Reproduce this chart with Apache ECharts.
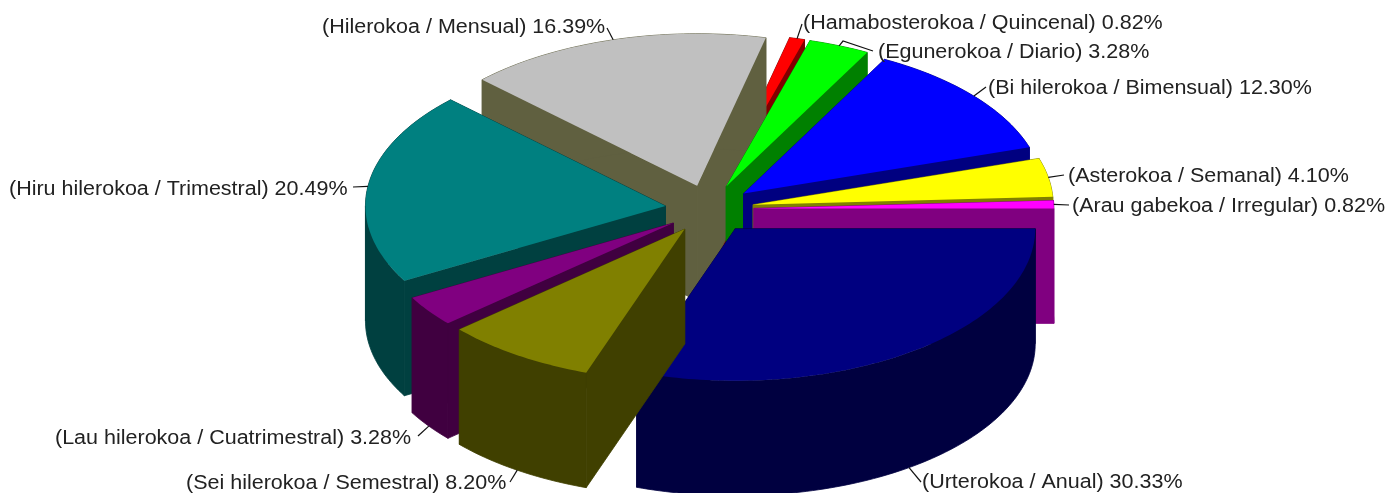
<!DOCTYPE html>
<html>
<head>
<meta charset="utf-8">
<title>Maiztasuna</title>
<style>
  html, body { margin: 0; padding: 0; background: #fff; }
  #chart { width: 1394px; height: 493px; }
</style>
<script src="https://cdn.jsdelivr.net/npm/echarts@6/dist/echarts.min.js"></script>
</head>
<body>
<div id="chart"></div>
<script>
// slices, counter-clockwise from east
var names = [
  '(Arau gabekoa / Irregular)', '(Asterokoa / Semanal)', '(Bi hilerokoa / Bimensual)',
  '(Egunerokoa / Diario)', '(Hamabosterokoa / Quincenal)', '(Hilerokoa / Mensual)',
  '(Hiru hilerokoa / Trimestral)', '(Lau hilerokoa / Cuatrimestral)',
  '(Sei hilerokoa / Semestral)', '(Urterokoa / Anual)'
];
var percents = [0.82, 4.10, 12.30, 3.28, 0.82, 16.39, 20.49, 3.28, 8.20, 30.33];
var topColors = ['#ff00ff', '#ffff00', '#0000ff', '#00ff00', '#ff0000', '#c0c0c0', '#008080', '#800080', '#808000', '#000080'];
var sideColors = ['#800080', '#808000', '#000080', '#008000', '#800000', '#606040', '#004040', '#400040', '#404000', '#000040'];

// the order the old renderer painted the slices in
var paintOrder = [4, 5, 3, 2, 1, 0, 6, 7, 9, 8];

// pie layout
var cx = 709.5, cy = 209, rx = 300, ry = 152, depth = 115, explodeX = 44.4, explodeY = 24.2;
// the source image is stretched sideways, so the text is too
var textStretch = 1.075;

// label layout: left edge and middle of the text, end of the leader, optional bend
var labelSpots = [
  { x: 1072, y: 205, endX: 1069, endY: 205 },
  { x: 1068, y: 175, endX: 1064, endY: 175 },
  { x: 988, y: 87, endX: 986, endY: 87 },
  { x: 878, y: 51, endX: 873, endY: 51, bendX: 843, bendY: 41 },
  { x: 803, y: 22, endX: 802, endY: 24 },
  { x: 322, y: 26, endX: 607, endY: 28 },
  { x: 9, y: 188, endX: 353, endY: 187 },
  { x: 55, y: 437, endX: 418, endY: 436 },
  { x: 186, y: 482, endX: 510, endY: 482 },
  { x: 922, y: 481, endX: 921, endY: 482 }
];

var total = percents.reduce(function(a, b) { return a + b; }, 0);
var starts = [];
percents.reduce(function(sum, v, i) { starts[i] = sum / total * Math.PI * 2; return sum + v; }, 0);

function apexOf(i) {
  var mid = starts[i] + percents[i] / total * Math.PI;
  return [cx + explodeX * Math.cos(mid), cy - explodeY * Math.sin(mid)];
}

function arcPoint(apex, a) {
  return [apex[0] + rx * Math.cos(a), apex[1] - ry * Math.sin(a)];
}

function drop(p) { return [p[0], p[1] + depth]; }

function arcPoints(apex, from, to) {
  var steps = Math.max(4, Math.ceil((to - from) / 0.02));
  var pts = [];
  for (var s = 0; s <= steps; s++) pts.push(arcPoint(apex, from + (to - from) * s / steps));
  return pts;
}

function renderSlice(params, api) {
  var i = api.value(0);
  var apex = apexOf(i);
  var from = starts[i];
  var to = from + api.value(1) / total * Math.PI * 2;
  var arc = arcPoints(apex, from, to);
  var first = arc[0], last = arc[arc.length - 1];
  var side = { fill: sideColors[i], stroke: sideColors[i], lineWidth: 0.8 };

  // the outer wall folds over at the far left, so it is split there
  var parts = (from < Math.PI && to > Math.PI)
    ? [arcPoints(apex, from, Math.PI), arcPoints(apex, Math.PI, to)]
    : [arc];
  var children = [
    { type: 'polygon', shape: { points: [apex, first, drop(first), drop(apex)] }, style: side },
    { type: 'polygon', shape: { points: [apex, last, drop(last), drop(apex)] }, style: side }
  ];
  parts.forEach(function(part) {
    children.push({ type: 'polygon', shape: { points: part.concat(part.map(drop).reverse()) }, style: side });
  });
  children.push({ type: 'polygon', shape: { points: [apex].concat(arc) }, style: { fill: topColors[i] } });
  return { type: 'group', silent: true, children: children };
}

function renderLabel(params, api) {
  var i = api.value(0);
  var spot = labelSpots[i];
  var apex = apexOf(i);
  var mid = starts[i] + percents[i] / total * Math.PI;
  var p = arcPoint(apex, mid);
  if (Math.sin(mid) < -0.3) p = drop(p);
  var line = [p];
  if (spot.bendX) line.push([spot.bendX, spot.bendY]);
  line.push([spot.endX, spot.endY]);
  return {
    type: 'group',
    silent: true,
    children: [
      { type: 'polyline', shape: { points: line }, style: { fill: null, stroke: '#111', lineWidth: 1.2 } },
      {
        type: 'text',
        x: spot.x,
        y: spot.y + 1,
        scaleX: textStretch,
        style: {
          text: names[i] + ' ' + api.value(1).toFixed(2) + '%',
          fill: '#222',
          font: '20px "Liberation Sans", Arial, sans-serif',
          textAlign: 'left',
          textVerticalAlign: 'middle'
        }
      }
    ]
  };
}

var chart = echarts.init(document.getElementById('chart'), null, { renderer: 'canvas' });

chart.setOption({
  animation: false,
  backgroundColor: '#fff',
  series: [{
    type: 'custom',
    coordinateSystem: 'none',
    renderItem: renderSlice,
    data: paintOrder.map(function(i) { return [i, percents[i]]; })
  }, {
    type: 'custom',
    coordinateSystem: 'none',
    z: 5,
    renderItem: renderLabel,
    data: percents.map(function(v, i) { return [i, v]; })
  }]
});
</script>
</body>
</html>
